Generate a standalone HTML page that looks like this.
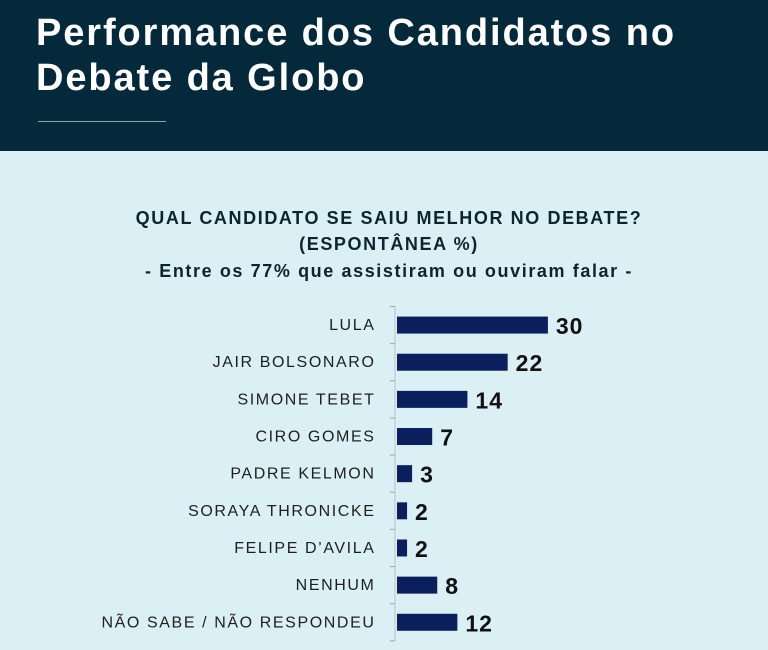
<!DOCTYPE html>
<html><head><meta charset="utf-8"><style>
body{margin:0;width:768px;height:650px;overflow:hidden;background:#daf0f4;font-family:"Liberation Sans",sans-serif;}
#hdr{position:absolute;left:0;top:0;width:768px;height:151px;background:#04293a;}
#title{position:absolute;left:36px;top:11px;color:#fff;font-weight:bold;font-size:38px;line-height:45px;margin:0;letter-spacing:1.9px}
#rule{position:absolute;left:38px;top:121px;width:128px;height:1px;background:#8da3ad}
</style></head><body>
<div id="hdr">
<h1 id="title">Performance dos Candidatos no<br>Debate da Globo</h1>
<div id="rule"></div>
</div>
<svg id="chart" width="768" height="650" style="position:absolute;left:0;top:0">
<g font-weight="bold" font-size="18" fill="#0b2530" text-anchor="middle" letter-spacing="1.6">
<text x="389" y="224">QUAL CANDIDATO SE SAIU MELHOR NO DEBATE?</text>
<text x="389" y="250">(ESPONTÂNEA %)</text>
<text x="389" y="277">- Entre os 77% que assistiram ou ouviram falar -</text>
</g>
<g id="g"></g>
</svg>
<script>
const categories=["LULA","JAIR BOLSONARO","SIMONE TEBET","CIRO GOMES","PADRE KELMON","SORAYA THRONICKE","FELIPE D’AVILA","NENHUM","NÃO SABE / NÃO RESPONDEU"];
const values=[30,22,14,7,3,2,2,8,12];
const ns="http://www.w3.org/2000/svg";
const g=document.getElementById('g');
const x0=397, unit=5.03, y0=306.5, step=37.15, bh=17;
const xs=v=>x0+v*unit;
const yb=i=>y0+i*step;
function mk(t,a){const e=document.createElementNS(ns,t);for(const k in a)e.setAttribute(k,a[k]);g.appendChild(e);return e;}
const ax=mk('line',{x1:395,x2:395,y1:y0,y2:yb(categories.length),stroke:'#b5c4c8','stroke-width':1});


for(let i=0;i<=categories.length;i++){
 const t=mk('line',{x1:390,x2:395,y1:yb(i),y2:yb(i),stroke:'#9aa8ad','stroke-width':1});
 
 
}
categories.forEach((c,i)=>{
 const cy=yb(i)+step/2;
 const l=mk('text',{x:375.5,y:cy+5,'text-anchor':'end','font-size':16,fill:'#1e1e1e','letter-spacing':1.6});
 l.textContent=c;
 
 
 const r=mk('rect',{x:x0,y:cy-bh/2,width:xs(values[i])-x0,height:bh,fill:'#0b1f5c'});
 
 
 const v=mk('text',{x:xs(values[i])+8,y:cy+9,'font-size':23,'font-weight':'bold',fill:'#111','letter-spacing':1});
 v.textContent=values[i];
 
 
});
</script>
</body></html>
